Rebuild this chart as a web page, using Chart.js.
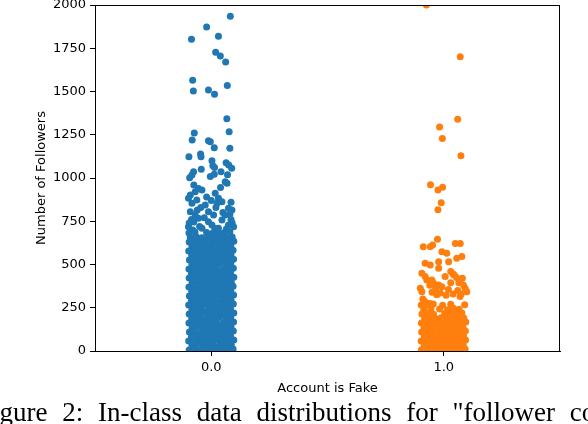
<!DOCTYPE html>
<html>
<head>
<meta charset="utf-8">
<script src="https://cdn.jsdelivr.net/npm/chart.js@4.4.1/dist/chart.umd.min.js"></script>
<style>
  html, body { margin: 0; padding: 0; background: #fff; overflow: hidden; }
  #wrap { position: relative; width: 588px; height: 424px; overflow: hidden; }
  #caption {
    position: absolute; left: -23px; top: 399px; white-space: nowrap;
    font-family: "Liberation Serif", "Times New Roman", serif; font-size: 27px;
    line-height: 27px; word-spacing: 8px; color: #000;
  }
</style>
</head>
<body>
<div id="wrap">
  <canvas id="chart"></canvas>
  <div id="caption">Figure 2: In-class data distributions for "follower count"</div>
</div>
<script>
const categories = ["0.0", "1.0"];
const yTicks = [0, 250, 500, 750, 1000, 1250, 1500, 1750, 2000];

// [jitter, followers] for real accounts (Account is Fake = 0.0)
const realPoints = [
  [0.082,1935],[-0.02,1873],[-0.085,1802],[0.031,1819],[0.019,1727],[0.039,1705],[0.062,1670],
  [-0.08,1565],[-0.077,1503],[-0.012,1509],[0.014,1484],[0.069,1534],[0.067,1343],[0.077,1268],
  [-0.073,1260],[-0.082,1220],[-0.012,1216],[-0.004,1210],[0.013,1175],[0.08,1172],[-0.096,1123],
  [-0.046,1139],[-0.044,1123],[0.003,1100],[0.007,1071],[0.014,1060],[0.064,1088],[0.075,1075],
  [0.088,1056],[-0.043,1050],[0.042,1036],[0.07,1019],[-0.076,1036],[-0.083,1017],[-0.093,1002],
  [-0.004,1008],[0.013,1021],
  [0.06,979],[0.068,969],[-0.055,940],[-0.069,921],[-0.04,931],[-0.09,902],[-0.098,883],[-0.083,854],
  [-0.062,873],[-0.026,844],[0.017,912],[0.031,883],[0.046,863],[0.025,854],[0.074,825],[0.089,815],
  [-0.012,805],[-0.09,805],[-0.069,786],[-0.055,767],[-0.012,747],[0.003,728],[0.046,757],[0.074,728],
  [0.096,718],[-0.098,718],[-0.04,709],[0.031,709],[0.06,786],[0.01,786],[-0.03,770],[0.085,760],
  [-0.085,760],[-0.075,745],[-0.095,740],[-0.06,815],[-0.045,830],[0.02,830],[0.05,800],[0.08,790],
  [0.09,740],[-0.02,890],[0.0,870],[-0.075,960],[0.04,945],[0.085,860],[-0.05,720],[0.015,710],
  [0.065,705],[-0.08,700],
  [-0.096,682],[-0.07,688],[-0.02,685],[0.006,681],[0.03,687],[0.055,683],[0.08,689],
  [-0.09,656],[-0.064,660],[-0.04,655],[-0.014,661],[0.014,657],[0.04,662],[0.066,654],[0.09,659],
  [-0.095,630],[-0.072,635],[-0.047,629],[-0.025,634],[0.002,631],[0.023,636],[0.049,628],[0.071,633],[0.097,635],
  [-0.083,604],[-0.061,609],[-0.035,603],[-0.013,608],[0.011,605],[0.037,610],[0.06,602],[0.084,607],
  [-0.097,578],[-0.071,583],[-0.046,577],[-0.024,582],[0.001,579],[0.024,584],[0.048,576],[0.073,581],[0.094,583],
  [-0.084,552],[-0.06,557],[-0.037,551],[-0.012,556],[0.012,553],[0.036,558],[0.059,550],[0.085,555],
  [-0.094,526],[-0.073,531],[-0.048,525],[-0.023,530],[-0.002,527],[0.025,532],[0.047,524],[0.072,529],[0.096,531],
  [-0.083,500],[-0.059,505],[-0.036,499],[-0.011,504],[0.013,501],[0.035,506],[0.062,498],[0.084,503],
  [-0.096,474],[-0.07,479],[-0.047,473],[-0.024,478],[0.003,475],[0.022,480],[0.049,472],[0.071,477],[0.095,479],
  [-0.085,448],[-0.061,453],[-0.034,447],[-0.013,452],[0.012,449],[0.037,454],[0.06,446],[0.083,451],
  [-0.095,422],[-0.072,427],[-0.048,421],[-0.022,426],[0.0,423],[0.026,428],[0.046,420],[0.073,425],[0.097,427],
  [-0.082,396],[-0.06,401],[-0.037,395],[-0.012,400],[0.011,397],[0.036,402],[0.058,394],[0.086,399],
  [-0.096,370],[-0.073,375],[-0.046,369],[-0.025,374],[0.001,371],[0.024,376],[0.048,368],[0.07,373],[0.094,375],
  [-0.084,344],[-0.059,349],[-0.036,343],[-0.011,348],[0.013,345],[0.035,350],[0.061,342],[0.084,347],
  [-0.094,318],[-0.071,323],[-0.048,317],[-0.023,322],[-0.001,319],[0.023,324],[0.049,316],[0.072,321],[0.096,323],
  [-0.085,292],[-0.061,297],[-0.035,291],[-0.013,296],[0.01,293],[0.037,298],[0.059,290],[0.085,295],
  [-0.097,266],[-0.072,271],[-0.047,265],[-0.024,270],[0.002,267],[0.025,272],[0.047,264],[0.071,269],[0.095,271],
  [-0.083,240],[-0.06,245],[-0.038,239],[-0.01,244],[0.012,241],[0.036,246],[0.06,238],[0.083,243],
  [-0.095,214],[-0.07,219],[-0.049,213],[-0.021,218],[0.0,215],[0.024,220],[0.048,212],[0.073,217],[0.097,219],
  [-0.084,188],[-0.058,193],[-0.036,187],[-0.012,192],[0.014,189],[0.034,194],[0.062,186],[0.084,191],
  [-0.096,162],[-0.071,167],[-0.048,161],[-0.024,166],[0.003,163],[0.022,168],[0.05,160],[0.072,165],[0.096,167],
  [-0.082,136],[-0.061,141],[-0.035,135],[-0.014,140],[0.012,137],[0.037,142],[0.058,134],[0.085,139],
  [-0.094,110],[-0.073,115],[-0.046,109],[-0.023,113],[-0.002,116],[0.026,108],[0.047,114],[0.074,111],[0.095,115],
  [-0.085,84],[-0.059,89],[-0.037,82],[-0.011,88],[0.013,85],[0.035,90],[0.061,83],[0.083,87],
  [-0.097,58],[-0.07,63],[-0.047,57],[-0.025,62],[0.001,59],[0.023,64],[0.049,56],[0.071,61],[0.097,63],
  [-0.083,31],[-0.062,37],[-0.034,33],[-0.013,39],[0.011,30],[0.038,36],[0.059,32],[0.086,38],
  [-0.095,6],[-0.071,11],[-0.049,4],[-0.022,9],[0.002,13],[0.025,5],[0.046,10],[0.073,7],[0.094,12]
];

// [jitter, followers] for fake accounts (Account is Fake = 1.0)
const fakePoints = [
  [-0.075,2000],[0.071,1701],[0.06,1339],[-0.018,1295],[-0.006,1229],[0.074,1129],
  [-0.057,961],[-0.025,930],[-0.005,946],[-0.011,857],[-0.025,817],
  [-0.027,646],[-0.088,603],[-0.058,603],[-0.048,613],[-0.008,574],[0.013,565],[0.05,622],[0.071,622],
  [0.078,546],[0.056,536],[-0.022,516],[0.021,516],[-0.08,507],[-0.058,497],[-0.022,478],
  [-0.094,449],[-0.08,430],[-0.073,410],[0.03,460],[0.04,445],[0.055,425],[0.07,410],[0.08,420],
  [0.006,430],[-0.051,410],[-0.044,391],[-0.022,381],[-0.008,372],[-0.101,362],[-0.094,343],
  [0.092,362],[0.099,343],[-0.05,340],[-0.03,325],[0.01,322],[0.04,330],[0.07,315],
  [0.045,440],[0.065,395],[0.085,380],[0.03,395],[-0.06,380],[-0.035,360],[0.02,355],[0.06,350],
  [-0.015,335],[0.075,330],[-0.09,300],[-0.08,285],[-0.07,268],[-0.06,275],
  [-0.097,266],[-0.045,272],[-0.005,265],[0.03,270],[0.09,268],
  [-0.086,240],[-0.055,246],[-0.018,243],[0.016,239],[0.042,247],[0.066,241],
  [-0.094,214],[-0.068,220],[-0.044,213],[0.004,217],[0.028,222],[0.052,215],[0.078,219],
  [-0.082,188],[-0.06,193],[-0.034,187],[-0.012,192],[0.014,189],[0.036,194],[0.062,186],[0.086,191],
  [-0.096,162],[-0.07,167],[-0.047,161],[-0.025,166],[0.003,163],[0.023,168],[0.049,160],[0.074,165],[0.095,167],
  [-0.085,136],[-0.061,141],[-0.036,135],[-0.013,140],[0.011,137],[0.037,142],[0.059,134],[0.083,139],
  [-0.095,110],[-0.071,115],[-0.049,109],[-0.022,114],[0.0,111],[0.026,116],[0.046,108],[0.072,113],[0.093,115],
  [-0.083,84],[-0.059,89],[-0.037,83],[-0.011,88],[0.012,85],[0.035,90],[0.06,82],[0.085,87],
  [-0.097,58],[-0.072,63],[-0.047,57],[-0.024,61],[0.002,64],[0.024,56],[0.048,62],[0.071,59],[0.094,63],
  [-0.084,32],[-0.06,37],[-0.035,31],[-0.012,36],[0.013,33],[0.036,38],[0.061,30],[0.084,35],
  [-0.096,7],[-0.071,12],[-0.048,5],[-0.023,10],[0.001,13],[0.025,6],[0.047,11],[0.073,8],[0.092,12]
];

const COLORS = { real: "#1f77b4", fake: "#ff7f0e", axis: "#000" };
const FONT = { family: "DejaVu Sans", size: 13 };

function toXY(points, index) {
  return points.map(function (p) { return { x: index + p[0], y: p[1] }; });
}

// matplotlib-style frame drawn over the points
const framePlugin = {
  id: "frame",
  afterDatasetsDraw: function (chart) {
    const a = chart.chartArea;
    const ctx = chart.ctx;
    ctx.save();
    ctx.strokeStyle = COLORS.axis;
    ctx.lineWidth = 1;
    ctx.strokeRect(Math.round(a.left) + 0.5, Math.round(a.top) + 0.5,
      Math.round(a.right - a.left) - 1, Math.round(a.bottom - a.top));
    ctx.restore();
  }
};

new Chart(document.getElementById("chart"), {
  type: "scatter",
  data: {
    datasets: [
      { data: toXY(realPoints, 0), backgroundColor: COLORS.real, borderWidth: 0, pointRadius: 3.5, clip: 0 },
      { data: toXY(fakePoints, 1), backgroundColor: COLORS.fake, borderWidth: 0, pointRadius: 3.5, clip: 0 }
    ]
  },
  options: {
    responsive: true,
    maintainAspectRatio: false,
    animation: false,
    layout: { padding: { left: 30, right: 28, top: 5, bottom: 24 } },
    plugins: { legend: { display: false }, tooltip: { enabled: false } },
    scales: {
      x: {
        type: "linear",
        min: -0.5,
        max: 1.5,
        afterBuildTicks: function (scale) {
          scale.ticks = categories.map(function (c, i) { return { value: i }; });
        },
        afterFit: function (scale) {
          scale.height = 49;
          scale.paddingLeft = 0;
          scale.paddingRight = 0;
        },
        ticks: {
          color: "#000", font: FONT, padding: 4, maxRotation: 0,
          callback: function (v) { return categories[v]; }
        },
        grid: { drawOnChartArea: false, drawTicks: true, tickLength: 5, color: COLORS.axis },
        border: { display: true, color: COLORS.axis },
        title: { display: true, text: "Account is Fake", color: "#000", font: FONT, padding: { top: 4, bottom: 4 } }
      },
      y: {
        min: 0,
        max: 2000,
        afterBuildTicks: function (scale) {
          scale.ticks = yTicks.map(function (v) { return { value: v }; });
        },
        afterFit: function (scale) {
          scale.width = 65;
          scale.paddingTop = 0;
          scale.paddingBottom = 0;
        },
        ticks: { color: "#000", font: FONT, padding: 4, callback: function (v) { return String(v); } },
        grid: { drawOnChartArea: false, drawTicks: true, tickLength: 5, color: COLORS.axis },
        border: { display: true, color: COLORS.axis },
        title: { display: true, text: "Number of Followers", color: "#000", font: FONT, padding: { top: 4, bottom: 4 } }
      }
    }
  },
  plugins: [framePlugin]
});
</script>
</body>
</html>
